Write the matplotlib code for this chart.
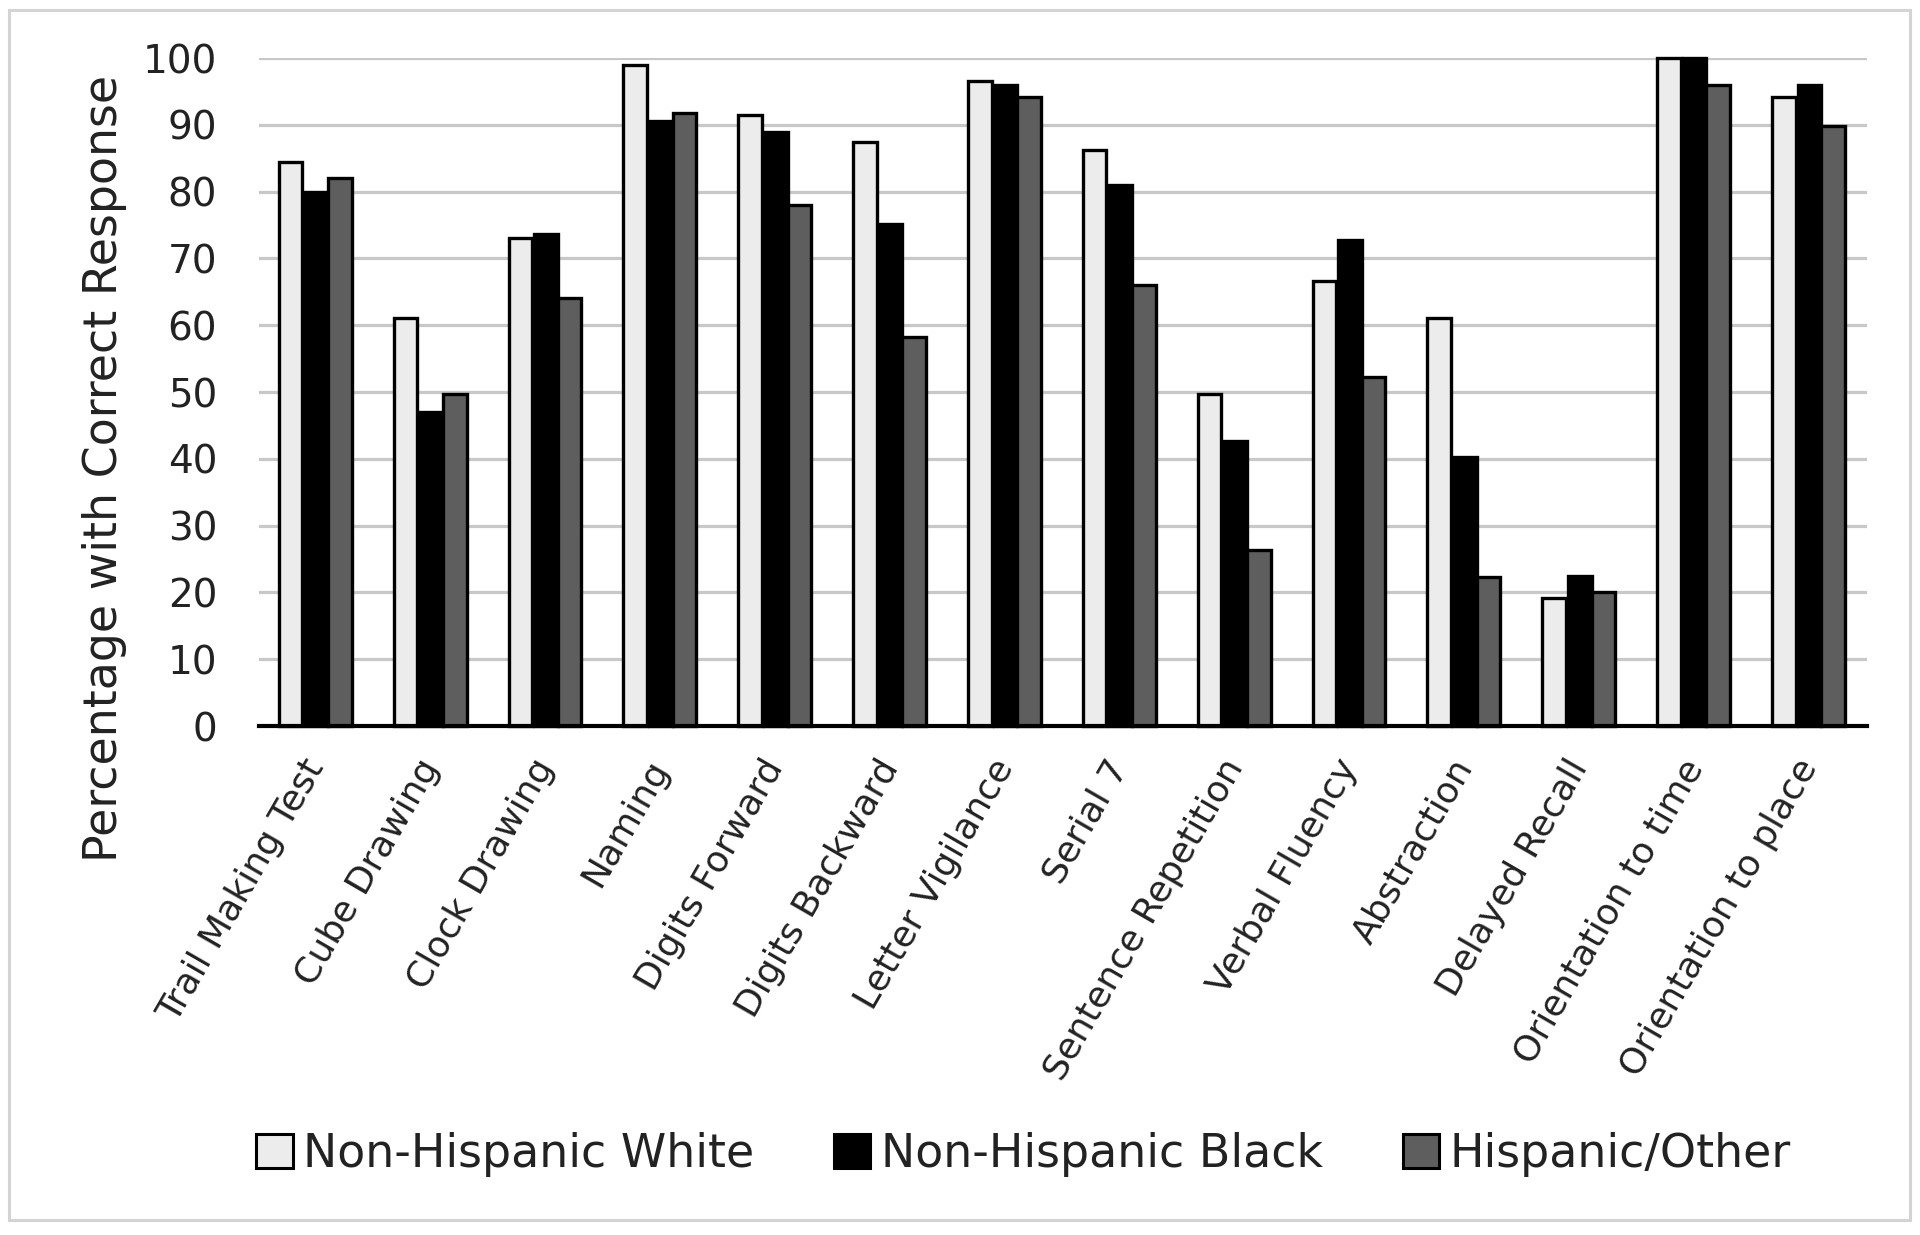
import matplotlib
matplotlib.use("Agg")
import matplotlib.pyplot as plt
from matplotlib.patches import Patch, Rectangle
import numpy as np

# tests on the x axis
categories = ["Trail Making Test", "Cube Drawing", "Clock Drawing", "Naming",
              "Digits Forward", "Digits Backward", "Letter Vigilance", "Serial 7",
              "Sentence Repetition", "Verbal Fluency", "Abstraction",
              "Delayed Recall", "Orientation to time", "Orientation to place"]

# percentage with correct response
white = [84.4, 61.1, 73.1, 98.9, 91.4, 87.5, 96.5, 86.3, 49.7, 66.6, 61.1, 19.2, 100.0, 94.1]
black = [79.9, 47.0, 73.7, 90.6, 88.9, 75.1, 96.0, 81.0, 42.7, 72.7, 40.3, 22.4, 100.0, 96.0]
hispanic = [82.1, 49.7, 64.1, 91.7, 78.0, 58.2, 94.1, 66.0, 26.4, 52.2, 22.3, 20.0, 96.0, 89.8]

series_names = ["Non-Hispanic White", "Non-Hispanic Black", "Hispanic/Other"]
series_colors = ["#ececec", "#000000", "#5e5e5e"]

plt.rcParams['font.family'] = ['DejaVu Sans']

fig = plt.figure(figsize=(19.2, 12.35), dpi=100)
ax = fig.add_axes([0.1349, 0.4121, 0.8375, 0.5409])

x = np.arange(len(categories))
w = 0.205
offsets = [-0.225, 0.0, 0.205]
for vals, off, col in zip([white, black, hispanic], offsets, series_colors):
    ax.bar(x + off, vals, width=w, color=col, edgecolor="black",
           linewidth=2.4, zorder=3, clip_on=False)

ax.set_xlim(-0.5, len(categories) - 0.5)
ax.set_ylim(0, 100)
ax.set_yticks(range(0, 101, 10))
ax.yaxis.grid(True, color="#c8c8c8", linewidth=2.3, zorder=0)
ax.set_axisbelow(True)

for s in ["top", "right", "left"]:
    ax.spines[s].set_visible(False)
ax.spines["bottom"].set_linewidth(3)
ax.spines["bottom"].set_zorder(4)

ax.tick_params(axis="y", length=0, labelsize=28, pad=30, labelcolor="#222222")
ax.tick_params(axis="x", length=0, pad=26)
ax.set_xticks(x)
ax.set_xticklabels(categories, rotation=60, ha="right", va="center",
                   rotation_mode="anchor", fontsize=26, color="#222222")

ax.set_ylabel("Percentage with Correct Response", fontsize=33, color="#222222")
ax.yaxis.set_label_coords(-0.082, 0.386)

handles = [Patch(facecolor=c, edgecolor="black", linewidth=2.2) for c in series_colors]
fig.legend(handles, series_names, loc="center", bbox_to_anchor=(0.533, 0.065),
           ncol=3, frameon=False, fontsize=33, handlelength=0.79,
           handleheight=0.76, handletextpad=0.22, columnspacing=1.75,
           labelcolor="#222222")

# light outer border around the whole chart
fig.patches.append(Rectangle((9 / 1920, 1 - 1220 / 1235), 1901 / 1920, 1210 / 1235,
                             transform=fig.transFigure, fill=False,
                             edgecolor="#d4d4d4", linewidth=2.2))

fig.savefig("out.png", dpi=100, facecolor="white")
plt.close(fig)
